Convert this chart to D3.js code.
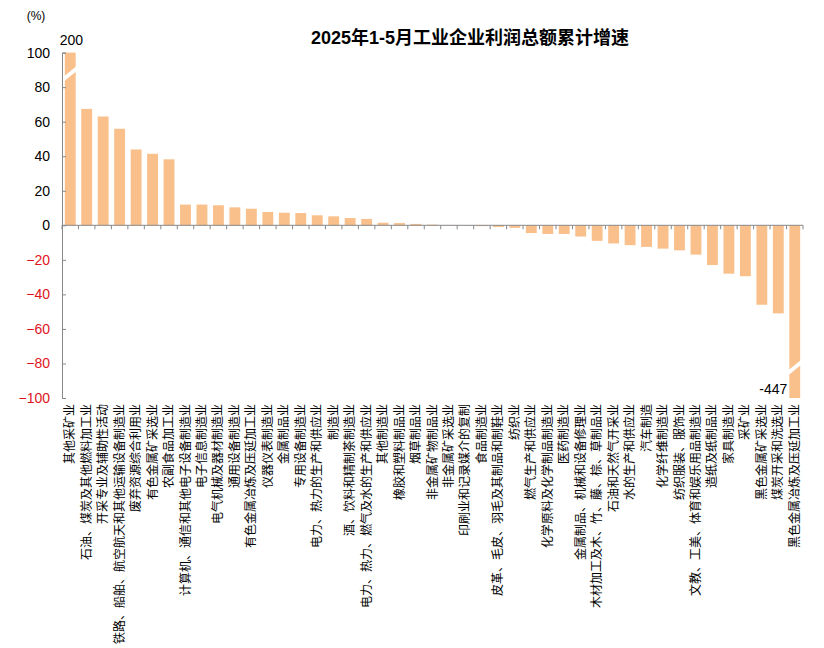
<!DOCTYPE html>
<html><head><meta charset="utf-8">
<script src="https://cdn.jsdelivr.net/npm/d3@7"></script>
<style>body{margin:0;background:#fff;font-family:Arial,"Liberation Sans","Noto Sans CJK SC",sans-serif;}</style>
</head><body><div id="chart"></div>
<script>
const industries = ["其他采矿业","石油、煤炭及其他燃料加工业","开采专业及辅助性活动","铁路、船舶、航空航天和其他运输设备制造业","废弃资源综合利用业","有色金属矿采选业","农副食品加工业","计算机、通信和其他电子设备制造业","电子信息制造业","电气机械及器材制造业","通用设备制造业","有色金属冶炼及压延加工业","仪器仪表制造业","金属制品业","专用设备制造业","电力、热力的生产和供应业","制造业","酒、饮料和精制茶制造业","电力、热力、燃气及水的生产和供应业","其他制造业","橡胶和塑料制品业","烟草制品业","非金属矿物制品业","非金属矿采选业","印刷业和记录媒介的复制","食品制造业","皮革、毛皮、羽毛及其制品和制鞋业","纺织业","燃气生产和供应业","化学原料及化学制品制造业","医药制造业","金属制品、机械和设备修理业","木材加工及木、竹、藤、棕、草制品业","石油和天然气开采业","水的生产和供应业","汽车制造","化学纤维制造业","纺织服装、服饰业","文教、工美、体育和娱乐用品制造业","造纸及纸制品业","家具制造业","采矿业","黑色金属矿采选业","煤炭开采和洗选业","黑色金属冶炼及压延加工业"];
const growth = [200,67.4,63,55.9,43.9,41.4,38.2,12,12,11.6,10.4,9.6,7.7,7.3,7.1,5.8,5.2,4.2,3.7,1.5,1.3,0.8,0.4,0.2,0.1,-0.5,-1,-1.5,-4.5,-5,-5,-6.5,-9,-10.5,-11.5,-12.5,-13.5,-14.5,-17,-23,-28,-29.5,-46,-51,-447];
const yTicks = [100,80,60,40,20,0,-20,-40,-60,-80,-100];

const W = 824, H = 648;
const mLeft = 62, mRight = 803, mTop = 52.6, mBottom = 398;
const svg = d3.select("#chart").append("svg").attr("width", W).attr("height", H);

const x = d3.scaleBand().domain(industries).range([mLeft, mRight]).paddingInner(0.34).paddingOuter(0.17);
const y = d3.scaleLinear().domain([-100, 100]).range([mBottom, mTop]);
const clip = v => Math.max(-100, Math.min(100, v));

svg.append("text").attr("x", 470).attr("y", 44).attr("text-anchor", "middle")
  .style("font-size", "18px").style("font-weight", "bold").text("2025年1-5月工业企业利润总额累计增速");
svg.append("text").attr("x", 36).attr("y", 20).attr("text-anchor", "middle")
  .style("font-size", "12px").text("(%)");

// bars
svg.selectAll(".bar").data(industries).join("rect").attr("class", "bar")
  .attr("x", d => x(d)).attr("width", x.bandwidth())
  .attr("y", (d, i) => y(Math.max(0, clip(growth[i]))))
  .attr("height", (d, i) => Math.abs(y(clip(growth[i])) - y(0)))
  .attr("fill", "#F9C08C");

// break marks on truncated bars
industries.forEach((d, i) => {
  if (Math.abs(growth[i]) <= 100) return;
  const yb = growth[i] > 0 ? y(88) : y(-82);
  const x0 = x(d) - 2, x1 = x(d) + x.bandwidth() + 2;
  svg.append("polygon")
    .attr("points", `${x0},${yb + 4} ${x1},${yb - 8} ${x1},${yb - 3} ${x0},${yb + 9}`)
    .attr("fill", "#fff");
  if (growth[i] > 0) {
    svg.append("text").attr("x", x(d) - 5).attr("y", mTop - 8).style("font-size", "14px").text(growth[i]);
  } else {
    svg.append("text").attr("x", x(d) - 2).attr("y", mBottom - 4).attr("text-anchor", "end")
      .style("font-size", "14px").text(growth[i]);
  }
});

// y axis
const yAxis = svg.append("g").attr("transform", `translate(${mLeft},0)`)
  .call(d3.axisRight(y).tickValues(yTicks).tickSize(4).tickFormat(d3.format("d")));
yAxis.select(".domain").attr("stroke", "#888");
yAxis.selectAll(".tick line").attr("stroke", "#888");
yAxis.selectAll(".tick text").attr("x", -12).attr("text-anchor", "end")
  .style("font-size", "14px").style("font-family", "Arial,'Liberation Sans'")
  .attr("fill", d => d < 0 ? "#E0141E" : "#000");

// x axis at zero
svg.append("line").attr("x1", mLeft).attr("x2", mRight).attr("y1", y(0)).attr("y2", y(0)).attr("stroke", "#888");
svg.selectAll(".xt").data(d3.range(industries.length + 1)).join("line")
  .attr("x1", i => mLeft + i * (mRight - mLeft) / industries.length)
  .attr("x2", i => mLeft + i * (mRight - mLeft) / industries.length)
  .attr("y1", y(0)).attr("y2", y(0) + 4).attr("stroke", "#888");

// category labels
svg.selectAll(".lab").data(industries).join("text").attr("class", "lab")
  .attr("transform", d => `translate(${x(d) + x.bandwidth() / 2 + 4},${mBottom + 6}) rotate(-90)`)
  .attr("text-anchor", "end").style("font-size", "12px").text(d => d);
</script></body></html>
